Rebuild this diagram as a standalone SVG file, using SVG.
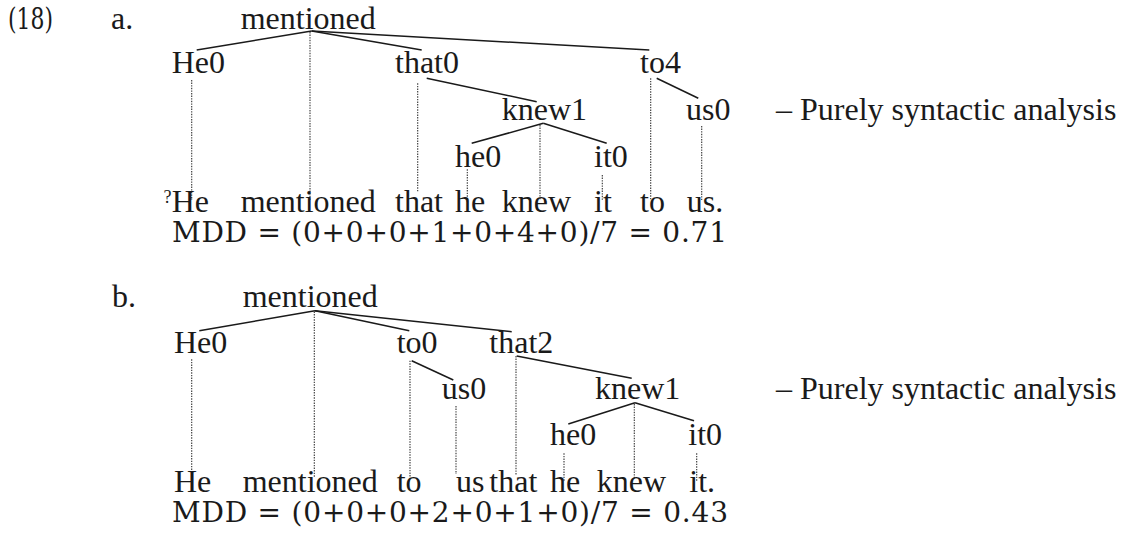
<svg xmlns="http://www.w3.org/2000/svg" width="1124" height="548" viewBox="0 0 1124 548">
<style>
text{font-family:"Liberation Serif","Times New Roman",serif;font-size:32px;fill:#1a1a1a}
.m{font-family:"DejaVu Serif","Liberation Serif",serif;font-size:28px}
.sup{font-size:18px}
.e{stroke:#1a1a1a;stroke-width:1.5;fill:none}
.d{stroke:#333;stroke-width:1.1;stroke-dasharray:1.4 1.2;fill:none}
</style>
<rect width="1124" height="548" fill="#fff"/>
<g id="labels">
<text class="m" x="8" y="29" style="font-size:30px" textLength="45" lengthAdjust="spacingAndGlyphs">(18)</text>
<text x="111" y="29">a.</text>
<text x="112" y="307">b.</text>
</g>
<!-- tree a -->
<g id="a-connectors">
<line class="e" x1="311.7" y1="31" x2="196.7" y2="50"/>
<line class="e" x1="311.7" y1="31" x2="421.7" y2="50"/>
<line class="e" x1="311.7" y1="31" x2="649.3" y2="50"/>
<line class="e" x1="426.7" y1="78.3" x2="536.7" y2="101.7"/>
<line class="e" x1="656.7" y1="78.3" x2="698.3" y2="98.3"/>
<line class="e" x1="543.3" y1="123.3" x2="471.7" y2="143.3"/>
<line class="e" x1="543.3" y1="123.3" x2="606.7" y2="143.3"/>
<line class="d" x1="191.7" y1="80" x2="191.7" y2="200"/>
<line class="d" x1="310" y1="32" x2="310" y2="200"/>
<line class="d" x1="417.7" y1="83.3" x2="417.7" y2="192"/>
<line class="d" x1="540" y1="125" x2="540" y2="200"/>
<line class="d" x1="467.3" y1="169.3" x2="467.3" y2="201.7"/>
<line class="d" x1="602.3" y1="175" x2="602.3" y2="200"/>
<line class="d" x1="650.7" y1="78.3" x2="650.7" y2="200"/>
<line class="d" x1="701.7" y1="126" x2="701.7" y2="200"/>
</g>
<g id="a-mentioned"><text x="240.7" y="29">mentioned</text></g>
<g id="a-He0"><text x="171.7" y="73.3">He0</text></g>
<g id="a-that0"><text x="395" y="73.3">that0</text></g>
<g id="a-to4"><text x="640" y="73.3">to4</text></g>
<g id="a-knew1"><text x="501.7" y="120">knew1</text></g>
<g id="a-us0"><text x="686" y="120">us0</text></g>
<g id="a-he0"><text x="455" y="166.7">he0</text></g>
<g id="a-it0"><text x="594" y="166.7">it0</text></g>
<g id="a-note"><text x="776" y="120">– Purely syntactic analysis</text></g>
<g id="a-sentence">
<text class="sup" x="163.5" y="203">?</text>
<text x="171.7" y="211.7">He</text>
<text x="240.7" y="211.7">mentioned</text>
<text x="395" y="211.7">that</text>
<text x="455" y="211.7">he</text>
<text x="501.7" y="211.7">knew</text>
<text x="594" y="211.7">it</text>
<text x="640" y="211.7">to</text>
<text x="686.7" y="211.7">us.</text>
</g>
<g id="a-mdd"><text class="m" x="172" y="242" textLength="555" lengthAdjust="spacing">MDD = (0+0+0+1+0+4+0)/7 = 0.71</text></g>
<!-- tree b -->
<g id="b-connectors">
<line class="e" x1="315" y1="310.7" x2="199.3" y2="330.7"/>
<line class="e" x1="315" y1="310.7" x2="409.3" y2="330.7"/>
<line class="e" x1="315" y1="310.7" x2="511.7" y2="331.7"/>
<line class="e" x1="411.7" y1="360.7" x2="453.3" y2="380"/>
<line class="e" x1="516.7" y1="356" x2="631.7" y2="378.3"/>
<line class="e" x1="635" y1="402.7" x2="568.3" y2="424"/>
<line class="e" x1="635" y1="402.7" x2="694" y2="420.7"/>
<line class="d" x1="191.7" y1="359.3" x2="191.7" y2="476.7"/>
<line class="d" x1="314.3" y1="311.5" x2="314.3" y2="476.7"/>
<line class="d" x1="410" y1="360.7" x2="410" y2="476.7"/>
<line class="d" x1="456" y1="406" x2="456" y2="474"/>
<line class="d" x1="516" y1="356" x2="516" y2="475"/>
<line class="d" x1="634.3" y1="404" x2="634.3" y2="478.3"/>
<line class="d" x1="564" y1="453.3" x2="564" y2="481.7"/>
<line class="d" x1="696.7" y1="453.3" x2="696.7" y2="481.7"/>
</g>
<g id="b-mentioned"><text x="242.7" y="306.7">mentioned</text></g>
<g id="b-He0"><text x="174" y="353.3">He0</text></g>
<g id="b-to0"><text x="396.7" y="353.3">to0</text></g>
<g id="b-that2"><text x="489.3" y="353.3">that2</text></g>
<g id="b-us0"><text x="441.7" y="399.3">us0</text></g>
<g id="b-knew1"><text x="595" y="399.3">knew1</text></g>
<g id="b-he0"><text x="550" y="445">he0</text></g>
<g id="b-it0"><text x="688.3" y="445">it0</text></g>
<g id="b-note"><text x="776" y="399.3">– Purely syntactic analysis</text></g>
<g id="b-sentence">
<text x="174" y="491.5">He</text>
<text x="242.7" y="491.5">mentioned</text>
<text x="396.7" y="491.5">to</text>
<text x="456" y="491.5">us</text>
<text x="489.3" y="491.5">that</text>
<text x="550" y="491.5">he</text>
<text x="596.7" y="491.5">knew</text>
<text x="689.3" y="491.5">it.</text>
</g>
<g id="b-mdd"><text class="m" x="172" y="522" textLength="556" lengthAdjust="spacing">MDD = (0+0+0+2+0+1+0)/7 = 0.43</text></g>
</svg>
